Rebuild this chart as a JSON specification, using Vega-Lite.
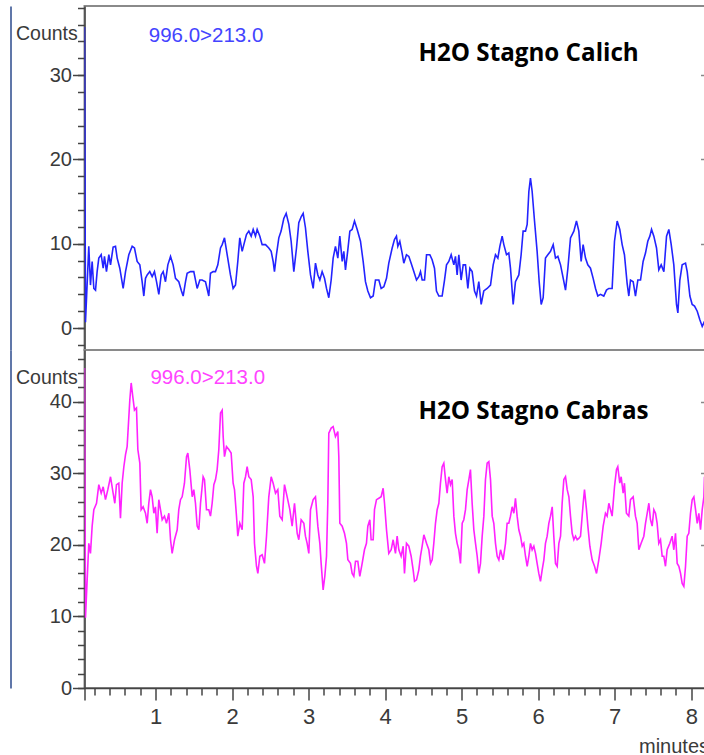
{
  "$schema": "https://vega.github.io/schema/vega-lite/v6.json",
  "padding": {"left": 9.5, "top": 5, "right": 0, "bottom": 0},
  "bounds": "flush",
  "spacing": 0,
  "config": {
    "view": {"stroke": "#8a8a8a", "strokeWidth": 2},
    "axis": {"grid": false, "tickColor": "#444444", "domainColor": "#444444", "tickWidth": 1.5, "domainWidth": 1.5, "labelColor": "#3a3a3a", "titleColor": "#3a3a3a", "labelFont": "Liberation Sans, Arial, sans-serif", "titleFont": "Liberation Sans, Arial, sans-serif", "titleFontWeight": "normal"}
  },
  "datasets": {
    "calich": [
      {"t":0.072,"v":35.7},{"t":0.085,"v":0.7},{"t":0.128,"v":9.7},{"t":0.150,"v":5.1},{"t":0.172,"v":7.9},{"t":0.194,"v":4.7},{"t":0.216,"v":4.5},{"t":0.237,"v":6.7},{"t":0.259,"v":8.3},{"t":0.290,"v":8.7},{"t":0.316,"v":7.1},{"t":0.333,"v":8.5},{"t":0.359,"v":6.7},{"t":0.390,"v":8.7},{"t":0.412,"v":7.5},{"t":0.446,"v":9.6},{"t":0.477,"v":9.7},{"t":0.499,"v":8.3},{"t":0.533,"v":7.1},{"t":0.577,"v":4.7},{"t":0.608,"v":6.7},{"t":0.651,"v":8.7},{"t":0.695,"v":9.7},{"t":0.725,"v":9.5},{"t":0.760,"v":7.9},{"t":0.795,"v":7.5},{"t":0.825,"v":5.5},{"t":0.847,"v":3.8},{"t":0.869,"v":5.9},{"t":0.891,"v":6.3},{"t":0.925,"v":6.7},{"t":0.956,"v":6.1},{"t":0.986,"v":6.7},{"t":1.013,"v":5.5},{"t":1.043,"v":4.0},{"t":1.074,"v":6.3},{"t":1.100,"v":6.7},{"t":1.130,"v":5.5},{"t":1.161,"v":7.5},{"t":1.196,"v":8.5},{"t":1.230,"v":7.5},{"t":1.261,"v":5.9},{"t":1.304,"v":5.5},{"t":1.339,"v":4.4},{"t":1.361,"v":3.8},{"t":1.392,"v":5.5},{"t":1.413,"v":6.5},{"t":1.457,"v":6.7},{"t":1.500,"v":6.7},{"t":1.544,"v":4.7},{"t":1.579,"v":5.7},{"t":1.609,"v":5.7},{"t":1.653,"v":5.5},{"t":1.696,"v":3.8},{"t":1.718,"v":6.5},{"t":1.753,"v":6.7},{"t":1.783,"v":6.7},{"t":1.814,"v":7.5},{"t":1.849,"v":9.5},{"t":1.871,"v":9.9},{"t":1.901,"v":10.7},{"t":1.936,"v":8.7},{"t":1.979,"v":6.3},{"t":2.014,"v":4.7},{"t":2.045,"v":5.1},{"t":2.075,"v":7.9},{"t":2.101,"v":10.7},{"t":2.132,"v":9.1},{"t":2.154,"v":9.9},{"t":2.188,"v":11.1},{"t":2.219,"v":11.5},{"t":2.250,"v":10.9},{"t":2.276,"v":11.7},{"t":2.306,"v":10.9},{"t":2.328,"v":11.7},{"t":2.363,"v":10.9},{"t":2.393,"v":9.9},{"t":2.437,"v":9.9},{"t":2.480,"v":9.5},{"t":2.511,"v":9.1},{"t":2.537,"v":7.9},{"t":2.554,"v":6.7},{"t":2.580,"v":8.7},{"t":2.611,"v":10.7},{"t":2.641,"v":11.5},{"t":2.676,"v":13.0},{"t":2.707,"v":13.6},{"t":2.742,"v":12.3},{"t":2.772,"v":10.3},{"t":2.807,"v":6.7},{"t":2.842,"v":9.5},{"t":2.872,"v":12.5},{"t":2.903,"v":13.2},{"t":2.929,"v":13.6},{"t":2.959,"v":11.9},{"t":2.990,"v":9.1},{"t":3.025,"v":6.3},{"t":3.060,"v":4.7},{"t":3.090,"v":7.7},{"t":3.121,"v":6.3},{"t":3.147,"v":5.7},{"t":3.177,"v":6.7},{"t":3.208,"v":5.9},{"t":3.234,"v":4.7},{"t":3.264,"v":3.6},{"t":3.295,"v":5.7},{"t":3.321,"v":8.3},{"t":3.351,"v":9.7},{"t":3.382,"v":8.3},{"t":3.408,"v":10.9},{"t":3.439,"v":7.9},{"t":3.460,"v":9.1},{"t":3.482,"v":6.9},{"t":3.513,"v":9.3},{"t":3.539,"v":11.5},{"t":3.569,"v":11.7},{"t":3.600,"v":12.7},{"t":3.635,"v":11.7},{"t":3.678,"v":10.3},{"t":3.713,"v":7.9},{"t":3.743,"v":5.5},{"t":3.774,"v":4.4},{"t":3.809,"v":3.6},{"t":3.844,"v":3.8},{"t":3.874,"v":5.7},{"t":3.918,"v":5.7},{"t":3.948,"v":4.7},{"t":3.983,"v":4.9},{"t":4.018,"v":5.9},{"t":4.048,"v":7.7},{"t":4.092,"v":9.5},{"t":4.122,"v":10.5},{"t":4.148,"v":10.9},{"t":4.166,"v":9.7},{"t":4.192,"v":10.3},{"t":4.222,"v":8.9},{"t":4.244,"v":7.7},{"t":4.279,"v":8.7},{"t":4.310,"v":8.5},{"t":4.340,"v":7.7},{"t":4.375,"v":6.7},{"t":4.410,"v":5.7},{"t":4.440,"v":6.1},{"t":4.462,"v":6.7},{"t":4.484,"v":5.7},{"t":4.515,"v":5.7},{"t":4.541,"v":8.7},{"t":4.584,"v":8.7},{"t":4.614,"v":8.1},{"t":4.645,"v":7.1},{"t":4.671,"v":4.4},{"t":4.702,"v":3.8},{"t":4.745,"v":3.8},{"t":4.776,"v":5.7},{"t":4.802,"v":7.5},{"t":4.832,"v":7.9},{"t":4.863,"v":8.7},{"t":4.898,"v":7.5},{"t":4.919,"v":8.5},{"t":4.941,"v":6.3},{"t":4.963,"v":8.7},{"t":4.993,"v":5.7},{"t":5.020,"v":7.5},{"t":5.050,"v":7.5},{"t":5.081,"v":4.7},{"t":5.107,"v":7.1},{"t":5.137,"v":6.7},{"t":5.168,"v":4.4},{"t":5.194,"v":3.8},{"t":5.224,"v":5.5},{"t":5.255,"v":2.8},{"t":5.289,"v":4.4},{"t":5.333,"v":4.7},{"t":5.377,"v":5.1},{"t":5.412,"v":7.5},{"t":5.442,"v":8.7},{"t":5.473,"v":8.3},{"t":5.499,"v":9.7},{"t":5.529,"v":10.9},{"t":5.551,"v":9.9},{"t":5.586,"v":8.7},{"t":5.616,"v":8.9},{"t":5.638,"v":7.1},{"t":5.673,"v":2.8},{"t":5.703,"v":5.5},{"t":5.747,"v":6.3},{"t":5.777,"v":8.7},{"t":5.803,"v":11.5},{"t":5.834,"v":11.5},{"t":5.856,"v":12.3},{"t":5.878,"v":16.2},{"t":5.899,"v":17.8},{"t":5.921,"v":16.2},{"t":5.952,"v":12.7},{"t":5.986,"v":9.1},{"t":6.013,"v":5.5},{"t":6.039,"v":2.8},{"t":6.065,"v":3.6},{"t":6.095,"v":8.3},{"t":6.126,"v":8.7},{"t":6.161,"v":9.1},{"t":6.196,"v":9.9},{"t":6.226,"v":8.3},{"t":6.257,"v":8.5},{"t":6.292,"v":7.5},{"t":6.327,"v":5.9},{"t":6.357,"v":4.5},{"t":6.388,"v":7.1},{"t":6.422,"v":10.7},{"t":6.466,"v":11.5},{"t":6.500,"v":12.7},{"t":6.531,"v":11.5},{"t":6.561,"v":7.9},{"t":6.587,"v":9.9},{"t":6.618,"v":8.3},{"t":6.648,"v":7.5},{"t":6.683,"v":7.1},{"t":6.718,"v":5.9},{"t":6.749,"v":4.7},{"t":6.779,"v":3.8},{"t":6.814,"v":4.0},{"t":6.857,"v":3.8},{"t":6.892,"v":4.5},{"t":6.923,"v":4.7},{"t":6.966,"v":4.7},{"t":6.997,"v":10.3},{"t":7.032,"v":12.7},{"t":7.066,"v":11.7},{"t":7.097,"v":9.9},{"t":7.127,"v":8.7},{"t":7.162,"v":5.3},{"t":7.184,"v":3.8},{"t":7.206,"v":5.7},{"t":7.241,"v":5.5},{"t":7.271,"v":3.8},{"t":7.302,"v":5.7},{"t":7.337,"v":5.7},{"t":7.371,"v":7.9},{"t":7.402,"v":8.9},{"t":7.432,"v":10.3},{"t":7.459,"v":10.9},{"t":7.481,"v":11.7},{"t":7.511,"v":10.9},{"t":7.546,"v":9.5},{"t":7.576,"v":6.9},{"t":7.607,"v":7.5},{"t":7.642,"v":6.7},{"t":7.677,"v":10.9},{"t":7.707,"v":11.7},{"t":7.738,"v":9.9},{"t":7.772,"v":7.5},{"t":7.807,"v":2.8},{"t":7.825,"v":1.8},{"t":7.851,"v":5.7},{"t":7.881,"v":7.5},{"t":7.925,"v":7.7},{"t":7.947,"v":6.7},{"t":7.982,"v":3.8},{"t":8.012,"v":2.8},{"t":8.043,"v":2.6},{"t":8.078,"v":2.0},{"t":8.112,"v":1.0},{"t":8.143,"v":0.2},{"t":8.173,"v":0.8}
    ],
    "cabras": [
      {"t":0.072,"v":44.7},{"t":0.085,"v":9.8},{"t":0.128,"v":20.2},{"t":0.150,"v":18.8},{"t":0.172,"v":22.6},{"t":0.194,"v":24.9},{"t":0.229,"v":25.8},{"t":0.259,"v":28.4},{"t":0.290,"v":27.2},{"t":0.316,"v":28.1},{"t":0.346,"v":26.3},{"t":0.377,"v":27.7},{"t":0.412,"v":29.5},{"t":0.446,"v":27.2},{"t":0.468,"v":25.8},{"t":0.490,"v":28.4},{"t":0.520,"v":28.6},{"t":0.542,"v":23.7},{"t":0.564,"v":28.6},{"t":0.586,"v":30.9},{"t":0.608,"v":32.6},{"t":0.629,"v":33.7},{"t":0.664,"v":40.2},{"t":0.682,"v":42.6},{"t":0.703,"v":40.7},{"t":0.725,"v":38.8},{"t":0.751,"v":39.1},{"t":0.769,"v":33.3},{"t":0.795,"v":31.4},{"t":0.812,"v":24.9},{"t":0.838,"v":25.3},{"t":0.869,"v":24.4},{"t":0.891,"v":23.0},{"t":0.912,"v":25.8},{"t":0.934,"v":27.7},{"t":0.956,"v":26.7},{"t":0.978,"v":24.4},{"t":0.999,"v":25.3},{"t":1.021,"v":21.6},{"t":1.043,"v":26.3},{"t":1.065,"v":24.9},{"t":1.087,"v":23.5},{"t":1.117,"v":24.0},{"t":1.143,"v":23.0},{"t":1.174,"v":24.4},{"t":1.196,"v":20.7},{"t":1.217,"v":18.8},{"t":1.248,"v":20.7},{"t":1.283,"v":22.1},{"t":1.304,"v":24.9},{"t":1.326,"v":26.3},{"t":1.348,"v":26.7},{"t":1.378,"v":28.6},{"t":1.405,"v":32.3},{"t":1.422,"v":32.8},{"t":1.448,"v":30.5},{"t":1.479,"v":26.7},{"t":1.500,"v":27.7},{"t":1.522,"v":25.8},{"t":1.544,"v":22.6},{"t":1.566,"v":22.1},{"t":1.588,"v":25.8},{"t":1.622,"v":29.5},{"t":1.640,"v":29.1},{"t":1.666,"v":24.9},{"t":1.696,"v":24.9},{"t":1.718,"v":24.0},{"t":1.740,"v":25.8},{"t":1.762,"v":28.4},{"t":1.784,"v":29.1},{"t":1.805,"v":30.5},{"t":1.827,"v":33.3},{"t":1.849,"v":38.4},{"t":1.871,"v":38.8},{"t":1.884,"v":35.1},{"t":1.901,"v":32.3},{"t":1.927,"v":33.7},{"t":1.958,"v":33.3},{"t":1.988,"v":32.8},{"t":2.014,"v":28.6},{"t":2.032,"v":27.7},{"t":2.058,"v":24.0},{"t":2.075,"v":21.2},{"t":2.101,"v":23.0},{"t":2.132,"v":22.1},{"t":2.154,"v":28.6},{"t":2.176,"v":29.5},{"t":2.197,"v":30.9},{"t":2.219,"v":29.5},{"t":2.250,"v":29.1},{"t":2.276,"v":26.7},{"t":2.293,"v":20.2},{"t":2.319,"v":17.0},{"t":2.337,"v":16.0},{"t":2.363,"v":18.4},{"t":2.393,"v":18.6},{"t":2.424,"v":17.4},{"t":2.450,"v":21.2},{"t":2.480,"v":26.7},{"t":2.511,"v":29.5},{"t":2.537,"v":28.6},{"t":2.568,"v":27.2},{"t":2.598,"v":27.7},{"t":2.624,"v":24.0},{"t":2.655,"v":23.5},{"t":2.685,"v":28.4},{"t":2.720,"v":26.7},{"t":2.755,"v":24.9},{"t":2.785,"v":22.6},{"t":2.816,"v":25.8},{"t":2.851,"v":21.6},{"t":2.872,"v":20.7},{"t":2.903,"v":23.5},{"t":2.938,"v":23.0},{"t":2.959,"v":21.2},{"t":2.981,"v":20.2},{"t":3.003,"v":18.8},{"t":3.025,"v":24.9},{"t":3.060,"v":26.3},{"t":3.090,"v":26.7},{"t":3.121,"v":22.6},{"t":3.147,"v":20.2},{"t":3.164,"v":17.4},{"t":3.190,"v":13.7},{"t":3.212,"v":15.6},{"t":3.234,"v":18.4},{"t":3.251,"v":25.8},{"t":3.264,"v":35.6},{"t":3.295,"v":36.3},{"t":3.321,"v":36.5},{"t":3.351,"v":35.1},{"t":3.382,"v":35.8},{"t":3.395,"v":32.3},{"t":3.408,"v":23.0},{"t":3.439,"v":22.6},{"t":3.469,"v":21.6},{"t":3.495,"v":20.2},{"t":3.513,"v":17.9},{"t":3.547,"v":17.4},{"t":3.569,"v":16.0},{"t":3.591,"v":15.6},{"t":3.613,"v":17.7},{"t":3.643,"v":17.7},{"t":3.669,"v":15.6},{"t":3.700,"v":17.4},{"t":3.730,"v":19.3},{"t":3.756,"v":20.2},{"t":3.774,"v":22.6},{"t":3.800,"v":23.5},{"t":3.817,"v":20.7},{"t":3.844,"v":20.7},{"t":3.861,"v":24.9},{"t":3.887,"v":26.3},{"t":3.918,"v":26.5},{"t":3.948,"v":26.7},{"t":3.974,"v":27.9},{"t":3.992,"v":25.8},{"t":4.018,"v":22.1},{"t":4.048,"v":18.8},{"t":4.079,"v":19.3},{"t":4.105,"v":20.7},{"t":4.135,"v":18.8},{"t":4.157,"v":21.2},{"t":4.179,"v":19.3},{"t":4.209,"v":18.4},{"t":4.236,"v":19.8},{"t":4.253,"v":16.0},{"t":4.279,"v":20.2},{"t":4.310,"v":19.8},{"t":4.340,"v":18.4},{"t":4.366,"v":16.5},{"t":4.384,"v":14.9},{"t":4.410,"v":15.1},{"t":4.440,"v":16.5},{"t":4.462,"v":18.4},{"t":4.484,"v":19.8},{"t":4.506,"v":21.4},{"t":4.541,"v":20.2},{"t":4.571,"v":19.3},{"t":4.593,"v":17.4},{"t":4.615,"v":17.9},{"t":4.636,"v":20.2},{"t":4.658,"v":23.0},{"t":4.680,"v":24.9},{"t":4.702,"v":25.8},{"t":4.723,"v":28.6},{"t":4.745,"v":30.9},{"t":4.767,"v":31.4},{"t":4.789,"v":29.1},{"t":4.810,"v":27.2},{"t":4.832,"v":29.5},{"t":4.854,"v":28.4},{"t":4.876,"v":29.1},{"t":4.898,"v":24.0},{"t":4.919,"v":21.6},{"t":4.941,"v":20.2},{"t":4.963,"v":19.3},{"t":4.985,"v":17.4},{"t":5.007,"v":23.0},{"t":5.028,"v":23.5},{"t":5.050,"v":24.9},{"t":5.072,"v":27.7},{"t":5.094,"v":29.1},{"t":5.115,"v":30.5},{"t":5.137,"v":25.8},{"t":5.159,"v":22.1},{"t":5.181,"v":20.2},{"t":5.203,"v":18.4},{"t":5.224,"v":16.0},{"t":5.246,"v":17.4},{"t":5.268,"v":21.2},{"t":5.290,"v":24.0},{"t":5.311,"v":29.1},{"t":5.333,"v":31.4},{"t":5.355,"v":31.6},{"t":5.377,"v":29.1},{"t":5.399,"v":24.0},{"t":5.420,"v":23.0},{"t":5.442,"v":20.2},{"t":5.464,"v":18.4},{"t":5.486,"v":17.9},{"t":5.508,"v":19.3},{"t":5.542,"v":17.9},{"t":5.573,"v":20.2},{"t":5.594,"v":23.0},{"t":5.616,"v":23.0},{"t":5.638,"v":24.0},{"t":5.660,"v":25.3},{"t":5.682,"v":24.4},{"t":5.703,"v":26.5},{"t":5.725,"v":24.0},{"t":5.747,"v":22.1},{"t":5.769,"v":21.2},{"t":5.791,"v":19.8},{"t":5.812,"v":20.2},{"t":5.834,"v":18.4},{"t":5.856,"v":17.0},{"t":5.878,"v":18.4},{"t":5.899,"v":20.2},{"t":5.921,"v":19.3},{"t":5.943,"v":19.8},{"t":5.965,"v":18.8},{"t":5.986,"v":17.4},{"t":6.008,"v":16.0},{"t":6.030,"v":14.9},{"t":6.052,"v":16.5},{"t":6.074,"v":17.9},{"t":6.095,"v":20.2},{"t":6.117,"v":21.2},{"t":6.139,"v":23.0},{"t":6.161,"v":24.0},{"t":6.183,"v":25.3},{"t":6.204,"v":21.2},{"t":6.226,"v":17.4},{"t":6.248,"v":17.0},{"t":6.270,"v":20.2},{"t":6.292,"v":21.2},{"t":6.313,"v":25.8},{"t":6.335,"v":29.1},{"t":6.357,"v":29.5},{"t":6.379,"v":27.7},{"t":6.401,"v":26.7},{"t":6.422,"v":24.0},{"t":6.444,"v":21.6},{"t":6.466,"v":20.7},{"t":6.488,"v":21.2},{"t":6.509,"v":20.7},{"t":6.531,"v":20.9},{"t":6.553,"v":21.2},{"t":6.588,"v":25.8},{"t":6.605,"v":27.7},{"t":6.631,"v":24.9},{"t":6.649,"v":22.6},{"t":6.675,"v":19.8},{"t":6.705,"v":17.9},{"t":6.736,"v":17.0},{"t":6.762,"v":16.0},{"t":6.792,"v":17.9},{"t":6.823,"v":20.2},{"t":6.849,"v":22.6},{"t":6.879,"v":24.4},{"t":6.901,"v":24.0},{"t":6.923,"v":25.8},{"t":6.945,"v":24.9},{"t":6.966,"v":24.0},{"t":6.997,"v":28.1},{"t":7.023,"v":30.5},{"t":7.040,"v":30.9},{"t":7.066,"v":28.6},{"t":7.084,"v":29.5},{"t":7.110,"v":27.2},{"t":7.127,"v":28.6},{"t":7.153,"v":24.4},{"t":7.184,"v":24.0},{"t":7.206,"v":26.3},{"t":7.241,"v":26.7},{"t":7.271,"v":24.0},{"t":7.293,"v":23.0},{"t":7.315,"v":19.3},{"t":7.345,"v":20.2},{"t":7.380,"v":21.2},{"t":7.402,"v":23.0},{"t":7.424,"v":24.4},{"t":7.446,"v":25.8},{"t":7.467,"v":23.5},{"t":7.489,"v":22.6},{"t":7.511,"v":24.9},{"t":7.533,"v":24.4},{"t":7.554,"v":23.0},{"t":7.576,"v":20.2},{"t":7.598,"v":20.7},{"t":7.620,"v":18.4},{"t":7.641,"v":18.4},{"t":7.663,"v":17.0},{"t":7.685,"v":19.3},{"t":7.720,"v":20.2},{"t":7.750,"v":21.2},{"t":7.772,"v":19.3},{"t":7.794,"v":21.6},{"t":7.816,"v":17.4},{"t":7.838,"v":17.0},{"t":7.860,"v":16.0},{"t":7.881,"v":14.6},{"t":7.903,"v":14.2},{"t":7.925,"v":17.0},{"t":7.947,"v":21.2},{"t":7.968,"v":21.6},{"t":7.990,"v":24.4},{"t":8.012,"v":26.3},{"t":8.034,"v":26.7},{"t":8.056,"v":24.9},{"t":8.078,"v":23.0},{"t":8.099,"v":24.4},{"t":8.121,"v":22.1},{"t":8.143,"v":24.9},{"t":8.165,"v":26.7},{"t":8.173,"v":29.5}
    ]
  },
  "vconcat": [
    {
      "width": 621,
      "height": 344,
      "layer": [
        {
          "data": {"name": "calich"},
          "mark": {"type": "line", "color": "#2323ff", "strokeWidth": 1.6, "clip": true},
          "encoding": {
            "x": {"field": "t", "type": "quantitative", "scale": {"domain": [0.072, 8.186], "nice": false, "zero": false}, "axis": null},
            "y": {"field": "v", "type": "quantitative", "scale": {"domain": [-2.6, 38.2], "nice": false, "zero": false},
                  "axis": {"orient": "left", "values": [0, 10, 20, 30], "tickSize": 12, "labelPadding": 1, "labelFontSize": 20, "labelOverlap": false, "labelFlush": false,
                           "title": "Counts", "titleAngle": 0, "titleAlign": "left", "titleBaseline": "alphabetic", "titleX": -69, "titleY": 33, "titleFontSize": 19.5}}
          }
        },
        {
          "data": {"values": [{}]},
          "mark": {"type": "point", "opacity": 0},
          "encoding": {
            "x": {"datum": 1, "type": "quantitative", "axis": null},
            "y": {"datum": 0, "type": "quantitative", "axis": {"orient": "left", "values": [-2, 0, 2, 4, 6, 8, 10, 12, 14, 16, 18, 20, 22, 24, 26, 28, 30, 32, 34, 36, 38], "tickSize": 7, "labels": false, "domain": false, "title": null}}
          }
        },
        {
          "data": {"values": [{}]},
          "mark": {"type": "point", "opacity": 0},
          "encoding": {
            "x": {"datum": 1, "type": "quantitative", "axis": null},
            "y": {"datum": 0, "type": "quantitative", "axis": {"orient": "left", "offset": 74, "ticks": false, "labels": false, "domain": true, "domainColor": "#2b4a8c", "domainWidth": 1.5, "title": null}}
          }
        },
        {
          "data": {"values": [{}]},
          "mark": {"type": "point", "opacity": 0},
          "encoding": {
            "x": {"datum": 1, "type": "quantitative", "axis": null},
            "y": {"datum": 0, "type": "quantitative", "axis": {"orient": "right", "offset": -5, "values": [10, 20, 30], "tickSize": 4, "tickColor": "#888888", "labels": false, "domain": false, "title": null}}
          }
        },
        {
          "data": {"values": [{}]},
          "mark": {"type": "text", "text": "996.0>213.0", "align": "left", "baseline": "alphabetic", "font": "Liberation Sans, Arial, sans-serif", "fontSize": 20.5, "color": "#4444ff"},
          "encoding": {
            "x": {"datum": 0.912, "type": "quantitative", "axis": null},
            "y": {"datum": 33.96, "type": "quantitative", "axis": null}
          }
        },
        {
          "data": {"values": [{}]},
          "mark": {"type": "text", "text": "H2O Stagno Calich", "align": "left", "baseline": "alphabetic", "font": "Open Sans", "fontWeight": "bold", "fontSize": 24.2, "color": "#000000"},
          "encoding": {
            "x": {"datum": 4.436, "type": "quantitative", "axis": null},
            "y": {"datum": 31.7, "type": "quantitative", "axis": null}
          }
        }
      ],
      "resolve": {"axis": {"x": "independent", "y": "independent"}}
    },
    {
      "width": 621,
      "height": 338,
      "layer": [
        {
          "data": {"name": "cabras"},
          "mark": {"type": "line", "color": "#ff22ff", "strokeWidth": 1.6, "clip": true},
          "encoding": {
            "x": {"field": "t", "type": "quantitative", "scale": {"domain": [0.072, 8.186], "nice": false, "zero": false},
                  "axis": {"orient": "bottom", "values": [0.072, 1, 2, 3, 4, 5, 6, 7, 8], "format": "d", "labelExpr": "datum.value < 0.5 ? '' : datum.label", "tickSize": 12, "labelPadding": 6, "labelFontSize": 22, "labelFlush": false, "labelOverlap": false,
                           "title": "minutes", "titleX": 554, "titleY": 64, "titleAlign": "left", "titleBaseline": "alphabetic", "titleFontSize": 20}},
            "y": {"field": "v", "type": "quantitative", "scale": {"domain": [0, 47.2], "nice": false, "zero": false},
                  "axis": {"orient": "left", "values": [0, 10, 20, 30, 40], "tickSize": 12, "labelPadding": 1, "labelFontSize": 20, "labelOverlap": false, "labelFlush": false,
                           "title": "Counts", "titleAngle": 0, "titleAlign": "left", "titleBaseline": "alphabetic", "titleX": -69, "titleY": 33, "titleFontSize": 19.5}}
          }
        },
        {
          "data": {"values": [{}]},
          "mark": {"type": "point", "opacity": 0},
          "encoding": {
            "x": {"datum": 1, "type": "quantitative", "axis": {"orient": "bottom", "values": [0.2, 0.4, 0.6, 0.8, 1.2, 1.4, 1.6, 1.8, 2.2, 2.4, 2.6, 2.8, 3.2, 3.4, 3.6, 3.8, 4.2, 4.4, 4.6, 4.8, 5.2, 5.4, 5.6, 5.8, 6.2, 6.4, 6.6, 6.8, 7.2, 7.4, 7.6, 7.8], "tickSize": 7, "labels": false, "domain": false, "title": null}},
            "y": {"datum": 0, "type": "quantitative", "axis": {"orient": "left", "values": [0, 2, 4, 6, 8, 10, 12, 14, 16, 18, 20, 22, 24, 26, 28, 30, 32, 34, 36, 38, 40, 42, 44, 46], "tickSize": 7, "labels": false, "domain": false, "title": null}}
          }
        },
        {
          "data": {"values": [{}]},
          "mark": {"type": "point", "opacity": 0},
          "encoding": {
            "x": {"datum": 1, "type": "quantitative", "axis": null},
            "y": {"datum": 0, "type": "quantitative", "axis": {"orient": "left", "offset": 74, "ticks": false, "labels": false, "domain": true, "domainColor": "#2b4a8c", "domainWidth": 1.5, "title": null}}
          }
        },
        {
          "data": {"values": [{}]},
          "mark": {"type": "point", "opacity": 0},
          "encoding": {
            "x": {"datum": 1, "type": "quantitative", "axis": null},
            "y": {"datum": 0, "type": "quantitative", "axis": {"orient": "right", "offset": -5, "values": [20, 30, 40], "tickSize": 4, "tickColor": "#888888", "labels": false, "domain": false, "title": null}}
          }
        },
        {
          "data": {"values": [{}]},
          "mark": {"type": "text", "text": "996.0>213.0", "align": "left", "baseline": "alphabetic", "font": "Liberation Sans, Arial, sans-serif", "fontSize": 20.5, "color": "#ff44ff"},
          "encoding": {
            "x": {"datum": 0.934, "type": "quantitative", "axis": null},
            "y": {"datum": 42.5, "type": "quantitative", "axis": null}
          }
        },
        {
          "data": {"values": [{}]},
          "mark": {"type": "text", "text": "H2O Stagno Cabras", "align": "left", "baseline": "alphabetic", "font": "Open Sans", "fontWeight": "bold", "fontSize": 24.2, "color": "#000000"},
          "encoding": {
            "x": {"datum": 4.436, "type": "quantitative", "axis": null},
            "y": {"datum": 37.6, "type": "quantitative", "axis": null}
          }
        }
      ],
      "resolve": {"axis": {"x": "independent", "y": "independent"}}
    }
  ]
}
